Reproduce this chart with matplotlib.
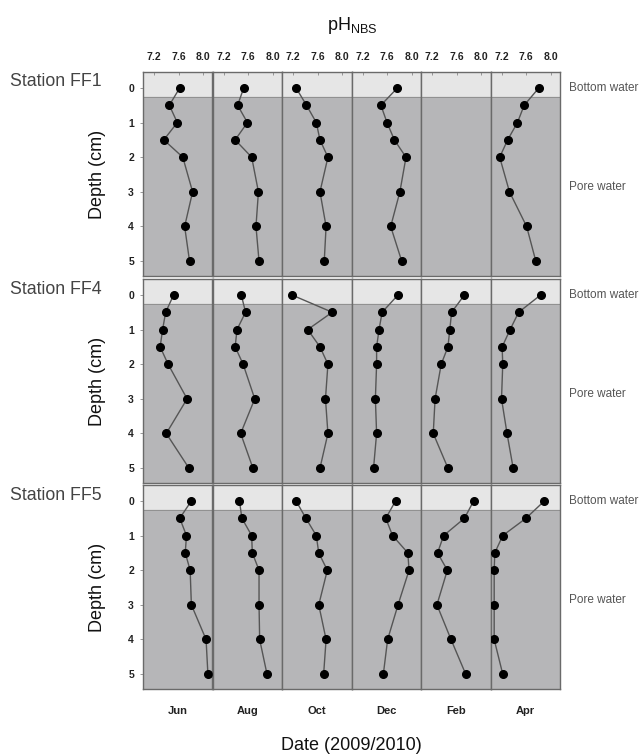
import numpy as np
import matplotlib
matplotlib.use("Agg")
import matplotlib.pyplot as plt

plt.rcParams['font.family'] = ['Liberation Sans', 'DejaVu Sans']

# depth levels (cm); 0 = bottom water
depth = [0, 0.5, 1, 1.5, 2, 3, 4, 5]
months = ['Jun', 'Aug', 'Oct', 'Dec', 'Feb', 'Apr']
stations = ['Station FF1', 'Station FF4', 'Station FF5']

# pH (NBS) profiles, one list per month; None = no data
ff1 = {
    'Jun': [7.62, 7.45, 7.58, 7.36, 7.67, 7.83, 7.70, 7.78],
    'Aug': [7.53, 7.43, 7.59, 7.39, 7.66, 7.77, 7.73, 7.78],
    'Oct': [7.25, 7.42, 7.58, 7.64, 7.77, 7.64, 7.74, 7.71],
    'Dec': [7.77, 7.50, 7.60, 7.72, 7.91, 7.81, 7.66, 7.84],
    'Feb': None,
    'Apr': [7.81, 7.57, 7.46, 7.30, 7.17, 7.33, 7.61, 7.76],
}
ff4 = {
    'Jun': [7.52, 7.39, 7.34, 7.30, 7.43, 7.74, 7.40, 7.77],
    'Aug': [7.49, 7.56, 7.42, 7.39, 7.52, 7.71, 7.48, 7.68],
    'Oct': [7.18, 7.84, 7.44, 7.64, 7.77, 7.73, 7.77, 7.64],
    'Dec': [7.78, 7.52, 7.47, 7.43, 7.43, 7.41, 7.43, 7.38],
    'Feb': [7.73, 7.52, 7.49, 7.46, 7.35, 7.25, 7.22, 7.46],
    'Apr': [7.84, 7.48, 7.34, 7.21, 7.22, 7.20, 7.29, 7.39],
}
ff5 = {
    'Jun': [7.81, 7.62, 7.73, 7.71, 7.79, 7.81, 8.05, 8.08],
    'Aug': [7.46, 7.50, 7.66, 7.67, 7.78, 7.78, 7.79, 7.91],
    'Oct': [7.25, 7.41, 7.58, 7.62, 7.76, 7.62, 7.74, 7.70],
    'Dec': [7.74, 7.58, 7.69, 7.94, 7.96, 7.78, 7.61, 7.54],
    'Feb': [7.88, 7.73, 7.39, 7.29, 7.45, 7.28, 7.51, 7.75],
    'Apr': [7.90, 7.60, 7.22, 7.09, 7.08, 7.08, 7.08, 7.22],
}
data = [ff1, ff4, ff5]

W, H = 641, 755
fig = plt.figure(figsize=(W / 100, H / 100), dpi=100)

left_px, panel_w = 143, 69.5
row_top = [72, 279, 485]
row_h = 204

light = '#e6e6e6'
dark = '#b6b6b8'
edge = '#6a6a6a'

for r, st in enumerate(data):
    for c, m in enumerate(months):
        x0 = (left_px + c * panel_w) / W
        y0 = 1 - (row_top[r] + row_h) / H
        ax = fig.add_axes([x0, y0, panel_w / W, row_h / H])
        ax.set_xlim(7.02, 8.155)
        ax.set_ylim(5.43, -0.46)
        ax.axhspan(-0.46, 0.25, color=light, zorder=0)
        ax.axhspan(0.25, 5.43, color=dark, zorder=0)
        ax.axhline(0.25, color='#8a8a8a', lw=0.6, zorder=1)
        for s in ax.spines.values():
            s.set_color(edge)
            s.set_linewidth(1.0)

        vals = st[m]
        if vals is not None:
            ax.plot(vals, depth, '-', color='#555555', lw=1.0, zorder=2)
            ax.plot(vals, depth, 'o', color='black', ms=5.5, zorder=3)

        ax.set_xticks([7.2, 7.6, 8.0])
        if r == 0:
            ax.xaxis.tick_top()
            ax.tick_params(axis='x', direction='in', length=2, width=0.6,
                           color='#888888', labelsize=7.5, pad=7)
            ax.set_xticklabels(['7.2', '7.6', '8.0'], fontweight='bold',
                               color='#222222')
        else:
            ax.tick_params(axis='x', length=0, labelbottom=False, labeltop=False)

        ax.set_yticks([0, 1, 2, 3, 4, 5])
        if c == 0:
            ax.tick_params(axis='y', direction='out', length=2.5, width=0.6,
                           color='#888888', labelsize=7.5, pad=4)
            ax.set_yticklabels([str(d) for d in range(6)], fontweight='bold',
                               color='#222222')
        else:
            ax.tick_params(axis='y', length=0, labelleft=False)

        if r == 2:
            ax.text(0.5, -22 / row_h, m, transform=ax.transAxes, ha='center',
                    va='center', fontsize=8, fontweight='bold', color='#222222')

        if c == len(months) - 1:
            ax.text(1 + 9 / panel_w, 0, 'Bottom water', transform=ax.get_yaxis_transform(),
                    ha='left', va='center', fontsize=8.5, color='#555555', clip_on=False)
            ax.text(1 + 9 / panel_w, 2.85, 'Pore water', transform=ax.get_yaxis_transform(),
                    ha='left', va='center', fontsize=8.5, color='#555555', clip_on=False)

    fig.text(10 / W, 1 - (row_top[r] + 10) / H, stations[r], ha='left', va='center',
             fontsize=12.8, color='#444444')
    fig.text(97 / W, 1 - (row_top[r] + row_h / 2) / H, 'Depth (cm)', rotation=90,
             ha='center', va='center', fontsize=13, color='#111111')

fig.text(352 / W, 1 - 25 / H, r'pH$_{\mathregular{NBS}}$', ha='center', va='center',
         fontsize=13, color='#111111')
fig.text(351 / W, 1 - 745 / H, 'Date (2009/2010)', ha='center', va='center',
         fontsize=13, color='#111111')

fig.savefig('out.png', dpi=100)
